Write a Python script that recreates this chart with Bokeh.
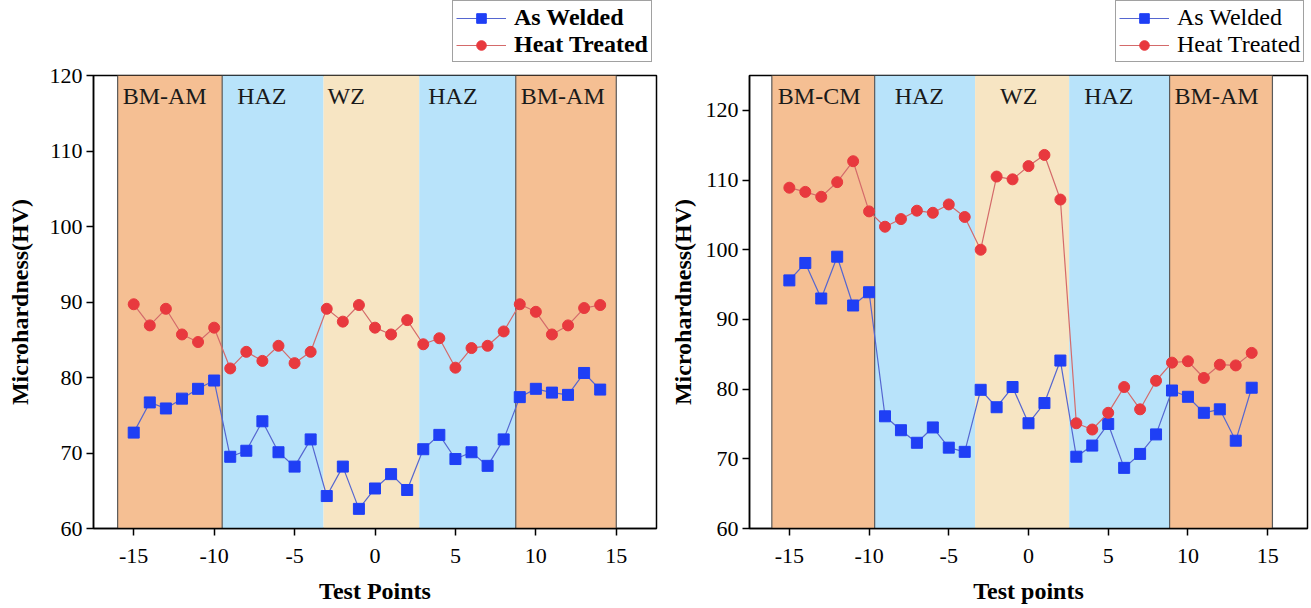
from bokeh.plotting import figure
from bokeh.models import ColumnDataSource, Legend, LegendItem, Range1d, FixedTicker
from bokeh.layouts import row, column
from bokeh.embed import file_html
from bokeh.resources import INLINE
from bokeh.core.properties import value

# ---------------- data ----------------
test_points = list(range(-15, 15))

left_as_welded = [72.7, 76.7, 75.9, 77.2, 78.5, 79.6, 69.5, 70.3, 74.2, 70.1,
                  68.2, 71.8, 64.3, 68.2, 62.6, 65.3, 67.2, 65.1, 70.5, 72.4,
                  69.2, 70.1, 68.3, 71.8, 77.4, 78.5, 78.0, 77.7, 80.6, 78.4]
left_heat_treated = [89.7, 86.9, 89.1, 85.7, 84.7, 86.6, 81.2, 83.4, 82.2, 84.2,
                     81.9, 83.4, 89.1, 87.4, 89.6, 86.6, 85.7, 87.6, 84.4, 85.2,
                     81.3, 83.9, 84.2, 86.1, 89.7, 88.7, 85.7, 86.9, 89.2, 89.6]

right_as_welded = [95.6, 98.1, 93.0, 99.0, 92.0, 93.9, 76.1, 74.1, 72.3, 74.5,
                   71.6, 71.0, 79.9, 77.4, 80.3, 75.1, 78.0, 84.1, 70.3, 71.9,
                   75.0, 68.7, 70.7, 73.5, 79.8, 78.9, 76.6, 77.1, 72.6, 80.2]
right_heat_treated = [108.9, 108.3, 107.6, 109.7, 112.7, 105.5, 103.3, 104.4, 105.6, 105.3,
                      106.5, 104.7, 100.0, 110.5, 110.1, 112.0, 113.6, 107.2, 75.1, 74.2,
                      76.6, 80.3, 77.1, 81.2, 83.8, 84.0, 81.6, 83.5, 83.4, 85.2]

left_band_edges = [-16.0, -9.5, -3.2, 2.75, 8.75, 15.0]
left_band_labels = ["BM-AM", "HAZ", "WZ", "HAZ", "BM-AM"]
right_band_edges = [-16.1, -9.65, -3.35, 2.55, 8.85, 15.3]
right_band_labels = ["BM-CM", "HAZ", "WZ", "HAZ", "BM-AM"]
band_kinds = ["bm", "haz", "wz", "haz", "bm"]

x_ticks = [-15, -10, -5, 0, 5, 10, 15]
x_tick_labels = ["-15", "-10", "-5", "0", "5", "10", "15"]
y_ticks = [60, 70, 80, 90, 100, 110, 120]

series_names = ["As Welded", "Heat Treated"]

# ---------------- style ----------------
FONT = "Liberation Serif"
BAND_COLORS = {"bm": "#F5BF93", "haz": "#B8E3FA", "wz": "#F7E5C3"}
BLUE = "#1F3FF5"
BLUE_LINE = "#5566D0"
RED = "#E8393E"
RED_LINE = "#D46A6A"


def style_line_marker(p, src, xcol, ycol, line_color, marker, color):
    l = p.line(xcol, ycol, source=src, line_color=line_color, line_width=1.2)
    s = p.scatter(xcol, ycol, source=src, marker=marker, size=11,
                  fill_color=color, line_color=color)
    return l, s


def make_legend_fig(width, legend_bold, legend_x):
    # a strip above the plot that only carries the legend
    lf = figure(width=width, height=62, x_range=Range1d(0, 1), y_range=Range1d(0, 1),
                output_backend="svg", toolbar_location=None, min_border=0,
                outline_line_color=None, background_fill_color="white",
                border_fill_color="white")
    lf.axis.visible = False
    lf.grid.visible = False
    # swatch-only renderers, kept outside the visible range
    swatch = ColumnDataSource(dict(x=[0.5], y=[-5.0]))
    l1, s1 = style_line_marker(lf, swatch, "x", "y", BLUE_LINE, "square", BLUE)
    l2, s2 = style_line_marker(lf, swatch, "x", "y", RED_LINE, "circle", RED)
    legend = Legend(items=[LegendItem(label=series_names[0], renderers=[l1, s1]),
                           LegendItem(label=series_names[1], renderers=[l2, s2])],
                    location=(legend_x, 0))
    legend.label_text_font = FONT
    legend.label_text_font_size = "24px"
    legend.label_text_font_style = "bold" if legend_bold else "normal"
    legend.label_text_color = "black"
    legend.border_line_color = "#444444"
    legend.border_line_width = 1
    legend.padding = 3
    legend.spacing = 0
    legend.margin = 0
    legend.glyph_width = 50
    legend.glyph_height = 24
    legend.label_height = 24
    legend.label_standoff = 8
    legend.background_fill_alpha = 1.0
    lf.add_layout(legend)
    return lf


def make_plot(width, border_left, border_right, y_end, aw, ht, edges, labels,
              label_offsets, xlabel, ylabel_standoff):
    p = figure(width=width, height=546, x_range=Range1d(-17.5, 17.5),
               y_range=Range1d(60, y_end), output_backend="svg",
               toolbar_location=None, min_border_left=border_left,
               min_border_right=border_right, min_border_top=13,
               min_border_bottom=80, background_fill_color="white",
               border_fill_color="white", outline_line_color="black",
               outline_line_width=1.5)
    p.xgrid.visible = False
    p.ygrid.visible = False

    # bands
    lefts = edges[:-1]
    rights = edges[1:]
    band_src = ColumnDataSource(dict(
        left=lefts, right=rights,
        bottom=[60] * len(lefts), top=[y_end] * len(lefts),
        color=[BAND_COLORS[k] for k in band_kinds],
        label=labels,
        lx=lefts,
        xoff=label_offsets,
        ly=[y_end] * len(lefts),
    ))
    p.quad(left="left", right="right", bottom="bottom", top="top",
           fill_color="color", line_color=None, source=band_src)

    # dark borders around base-metal bands
    bx = [edges[0], edges[1], edges[-2], edges[-1]]
    p.segment(x0=bx, y0=[60] * 4, x1=bx, y1=[y_end] * 4,
              line_color="#5a5a5a", line_width=1.2)

    p.text(x="lx", y="ly", text="label", source=band_src,
           x_offset="xoff", y_offset=7, text_baseline="top",
           text_align="left", text_font=value(FONT),
           text_font_size="24px", text_color="#1a1a1a")

    src = ColumnDataSource(dict(x=test_points, aw=aw, ht=ht))
    style_line_marker(p, src, "x", "aw", BLUE_LINE, "square", BLUE)
    style_line_marker(p, src, "x", "ht", RED_LINE, "circle", RED)

    # axes
    p.xaxis.ticker = FixedTicker(ticks=x_ticks)
    p.xaxis.major_label_overrides = {t: s for t, s in zip(x_ticks, x_tick_labels)}
    p.yaxis.ticker = FixedTicker(ticks=y_ticks)
    for ax in (p.xaxis, p.yaxis):
        ax.axis_line_color = "black"
        ax.axis_line_width = 1.5
        ax.major_tick_line_color = "black"
        ax.major_tick_line_width = 1.5
        ax.major_tick_out = 7
        ax.major_tick_in = 0
        ax.minor_tick_line_color = None
        ax.major_label_text_font = FONT
        ax.major_label_text_font_size = "22px"
        ax.major_label_text_color = "black"
        ax.axis_label_text_font = FONT
        ax.axis_label_text_font_size = "24px"
        ax.axis_label_text_font_style = "bold"
        ax.axis_label_text_color = "black"
    p.xaxis.major_label_standoff = 13
    p.xaxis.axis_label_standoff = 12
    p.yaxis.major_label_standoff = 4
    p.yaxis.axis_label_standoff = ylabel_standoff
    p.xaxis.axis_label = xlabel
    p.yaxis.axis_label = "Microhardness(HV)"
    return p


# legend strips share the plot frame alignment (x offsets are from the frame's left)
lf1 = make_legend_fig(665, True, 359)
p1 = make_plot(665, 93, 9, 120, left_as_welded, left_heat_treated,
               left_band_edges, left_band_labels, [5, 15, 4, 9, 5], "Test Points", 14)
lf2 = make_legend_fig(646, False, 366)
p2 = make_plot(646, 84, 4, 125, right_as_welded, right_heat_treated,
               right_band_edges, right_band_labels, [6, 20, 25, 15, 5], "Test points", 7)

layout = row(column(lf1, p1), column(lf2, p2))
open("out.html", "w").write(file_html(layout, INLINE))
